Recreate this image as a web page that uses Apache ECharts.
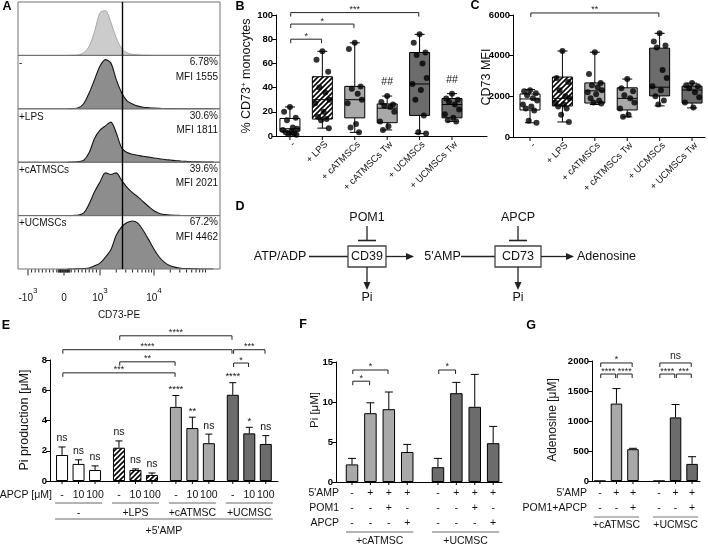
<!DOCTYPE html>
<html>
<head>
<meta charset="utf-8">
<script src="https://cdn.jsdelivr.net/npm/echarts@6.0.0/dist/echarts.min.js"></script>
<style>html,body{margin:0;padding:0;background:#fff;}#chart{width:708px;height:546px;}</style>
</head>
<body>
<div id="chart"></div>
<script>
const FF = '"Liberation Sans", Arial, Helvetica, sans-serif';

// ===== Panel A: CD73-PE histograms (display scale in decades) =====
const histBins = [2.4,2.5,2.6,2.7,2.8,2.9,3.0,3.1,3.2,3.3,3.4,3.5,3.6,3.7,3.8,3.9,4.0,4.1,4.2,4.3,4.4,4.5,4.6,4.7,4.8,4.9,5.0,5.1];
const histUnstained = [0,0.3,1,5,17,45,80,84,62,33,13,5,2,1,0.5,0.3,0,0,0,0,0,0,0,0,0,0,0,0];
const histNone      = [0,0.5,2,10,30,55,80,92,86,55,30,15,9,5,3,2,1.2,0.8,0.5,0.3,0.2,0.1,0,0,0,0,0,0];
const histLPS       = [0,0.3,1,4,18,45,60,68,75,55,27,18,15,13,11,9.5,8,6.5,5,4,3,2.2,1.5,1,0.7,0.4,0.2,0.1];
const histCATMSC    = [0,0.3,1,5,22,45,63,80,77,80,66,53,43,35,26,17,9,4,2,1,0.5,0.2,0,0,0,0,0,0];
const histUCMSC     = [0,0,0.3,0.8,2,6,11,22,36,63,79,87,90,86,72,55,37,22,12,6,3,1.5,0.8,0.4,0.2,0,0,0];
const histConditions = ['', '-', '+LPS', '+cATMSCs', '+UCMSCs'];
const histPercent = ['', '6.78%', '30.6%', '39.6%', '67.2%'];
const histMFI = ['', 'MFI 1555', 'MFI 1811', 'MFI 2021', 'MFI 4462'];
const histGate = 3.407;
const aTickValues = [-1000, 0, 1000, 10000];
const aTickBase = ['-10', '0', '10', '10'];
const aTickExp = ['3', '', '3', '4'];

// ===== Panel B: % CD73+ monocytes (box plots) =====
const boxCategories = ['-', '+ LPS', '+ cATMSCs', '+ cATMSCs Tw', '+ UCMSCs', '+ UCMSCs Tw'];
const bBoxStats = [[1,4,6,14.5,24],[6.5,14,30,49,70],[3,15,30,41,77],[5,11,23,26.5,33],[2,17,43,69,84],[12,15,26,31,35]];
const bPoints = [
  [24,20,15,13,7,6,5,4,3,2,1.5,1],
  [70,63,53,40,36,30,27,20,16,14,13,6.5],
  [77,72,41,39,35,30,27,10,7,3],
  [33,28,26,25,24,20,12,8,5],
  [84,77,69,67,60,48,43,38,30,17,3,2],
  [35,31,30,28,26,22,18,15,13,12]
];
const bSig = [[0,1,80,'*'],[0,2,92.5,'*'],[0,4,102,'***']];
const bHash = [[3,'##'],[5,'##']];

// ===== Panel C: CD73 MFI (box plots) =====
const cBoxStats = [[700,1330,1870,2115,2330],[740,1525,1900,2950,4230],[1600,1670,2270,2660,4170],[990,1330,1900,2420,2850],[1530,2020,2450,4370,5100],[1430,1670,2310,2500,2650]];
const cPoints = [
  [2300,2250,2150,2050,1900,1800,1600,1500,1400,1300,800,700],
  [4230,2900,2700,2300,2000,1900,1700,1600,1500,1400,1100,740],
  [4170,3100,2650,2550,2450,2300,2200,2100,1900,1800,1700,1650],
  [2850,2400,2250,2050,1900,1700,1400,1100,1000],
  [5100,4700,4500,4400,3300,2900,2500,2300,2000,1800,1600],
  [2650,2550,2500,2400,2200,1950,1700,1450]
];
const cSig = [[0,4,6100,'**']];

// ===== Panel E: Pi production =====
const eGroups = ['-', '+LPS', '+cATMSC', '+UCMSC'];
const eDoses = ['-', '10', '100'];
const eMeans = [[1.72,1.13,0.73],[2.2,0.73,0.4],[4.9,3.5,2.5],[5.7,3.15,2.45]];
const eSEM = [[0.53,0.27,0.27],[0.45,0.07,0.13],[0.75,0.72,0.6],[0.8,0.4,0.55]];
const eMarks = [['ns','ns','ns'],['ns','ns','ns'],['****','**','ns'],['****','*','ns']];
const eSig = [[[0,0],[2,0],7.15,'***'],[[1,0],[2,0],7.88,'**'],[[0,0],[3,0],8.68,'****'],[[1,0],[3,0],9.6,'****'],[[3,0],[3,1],7.8,'*'],[[3,0],[3,2],8.68,'***']];
const eCommon = "+5'AMP";

// ===== Panel F: Pi =====
const fGroups = ['+cATMSC', '+UCMSC'];
const fMeans = [[2.2,8.6,9.1,3.75],[1.85,11.1,9.4,4.85]];
const fSEM = [[0.75,1.3,2.15,0.95],[1.1,1.35,4.05,2.1]];
const fRowNames = ["5'AMP", 'POM1', 'APCP'];
const fRowSigns = [['-','+','+','+'],['-','-','+','-'],['-','-','-','+']];
const fSig = [[[0,0],[0,1],12.6,'*'],[[0,0],[0,2],14.0,'*'],[[1,0],[1,1],14.0,'*']];

// ===== Panel G: Adenosine =====
const gGroups = ['+cATMSC', '+UCMSC'];
const gMeans = [[0,1290,530],[0,1060,285]];
const gSEM = [[0,250,15],[0,215,120]];
const gRowNames = ["5'AMP", 'POM1+APCP'];
const gRowSigns = [['-','+','+'],['-','-','+']];
const gSig = [[[0,0],[0,1],1783,'****'],[[0,1],[0,2],1783,'****'],[[0,0],[0,2],1967,'*'],[[1,0],[1,1],1783,'****'],[[1,1],[1,2],1783,'***'],[[1,0],[1,2],1967,'ns']];

// ---------------------------------------------------------------
const LIGHT = '#a9a9a9', DARK = '#6c6c6c';
const STAR = 9;
const hatchCanvas = (function(){
  const c = document.createElement('canvas'); c.width = 5; c.height = 5;
  const g = c.getContext('2d'); g.fillStyle = '#fff'; g.fillRect(0,0,5,5);
  g.strokeStyle = '#000'; g.lineWidth = 1.6; g.beginPath();
  g.moveTo(-1,6); g.lineTo(6,-1); g.moveTo(-1,1); g.lineTo(1,-1); g.moveTo(4,6); g.lineTo(6,4);
  g.stroke(); return c;
})();
const HATCH = {image: hatchCanvas, repeat: 'repeat'};

const grid = [], xAxis = [], yAxis = [], series = [], graphics = [];

function txt(text, x, y, o) {
  o = o || {};
  graphics.push({type:'text', x:x, y:y, rotation:o.rotation||0, silent:true, z:10,
    style:{text:text, fontSize:o.size||11, fontFamily:FF, fontWeight:o.weight||'normal', fill:o.color||'#111',
      align:o.align||'center', verticalAlign:o.va||'middle', textAlign:o.align||'center', textVerticalAlign:o.va||'middle', rich:o.rich}});
}
function gline(x1,y1,x2,y2,o){ o=o||{}; graphics.push({type:'line', silent:true, z:10, shape:{x1,y1,x2,y2}, style:{stroke:o.color||'#222', lineWidth:o.width||1.3}}); }
function gpoly(pts,o){ o=o||{}; graphics.push({type:'polygon', silent:true, z:10, shape:{points:pts}, style:{fill:o.color||'#222'}}); }

function valueAxisX(gi, min, max) {
  return {gridIndex:gi, type:'value', min:min, max:max, axisLine:{show:true, onZero:false, lineStyle:{color:'#000', width:1}},
    axisTick:{show:false}, axisLabel:{show:false}, splitLine:{show:false}};
}
function valueAxisY(gi, min, max, interval) {
  return {gridIndex:gi, type:'value', min:min, max:max, interval:interval,
    axisLine:{show:true, onZero:false, lineStyle:{color:'#000', width:1}},
    axisTick:{show:true, length:4, lineStyle:{color:'#000'}},
    axisLabel:{fontSize:9.5, fontWeight:'bold', color:'#000', fontFamily:FF, margin:3, formatter:function(v){return String(v);}},
    splitLine:{show:false}};
}

// ---------- A ----------
const aMin = 1.481, aMax = 5.222, aTop0 = 2, aH = 53.4;
function biex(x){ return Math.abs(x) <= 1000 ? 2.333 + x * 0.000667 : (x > 0 ? Math.log10(x) : 1.667 - (Math.log10(-x) - 3)); }
const hists = [histUnstained, histNone, histLPS, histCATMSC, histUCMSC];
hists.forEach(function(h, i){
  grid.push({left:18, top:aTop0 + i*aH, width:202, height:aH, show:true, borderColor:'#707070', borderWidth:1, z:3});
  xAxis.push({gridIndex:i, type:'value', min:aMin, max:aMax, show:false});
  yAxis.push({gridIndex:i, type:'value', min:0, max:100, show:false});
  const light = i === 0;
  series.push({type:'line', xAxisIndex:i, yAxisIndex:i, silent:true, symbol:'none', smooth:0.3, z:2,
    data: histBins.map(function(b,j){ return [b, h[j]]; }),
    lineStyle:{color: light ? '#a8a8a8' : '#151515', width: light ? 1 : 1.1},
    areaStyle:{color: light ? '#cccccc' : '#8d8d8d', opacity:1},
    markLine:{silent:true, symbol:['none','none'], label:{show:false}, animation:false,
      lineStyle:{color:'#000', width:1.4, type:'solid'}, data:[{xAxis:histGate}]}});
  const top = aTop0 + i*aH;
  if (histConditions[i]) txt(histConditions[i], 19, top + 8, {size:10, align:'left'});
  if (histPercent[i]) txt(histPercent[i], 218, top + 7, {size:10, align:'right'});
  if (histMFI[i]) txt(histMFI[i], 218, top + 21.5, {size:10, align:'right'});
});
const aTicks = [];
aTickValues.forEach(function(v){ aTicks.push([biex(v), 6]); });
for (let k = 2; k <= 9; k++) { aTicks.push([biex(k*1000), 3]); aTicks.push([biex(k*10000), 3]); }
for (let k = 1; k <= 9; k++) { aTicks.push([biex(k*100), 3]); aTicks.push([biex(-k*100), 3]); }
for (let k = 1; k <= 8; k++) { aTicks.push([biex(k*20), 3]); aTicks.push([biex(-k*20), 3]); }
series.push({type:'custom', xAxisIndex:4, yAxisIndex:4, silent:true, z:6,
  data: aTicks.filter(function(t){ return t[0] >= aMin && t[0] <= aMax; }),
  renderItem: function(params, api){
    const p = api.coord([api.value(0), 0]);
    return {type:'line', shape:{x1:p[0], y1:p[1]+0.5, x2:p[0], y2:p[1]+0.5+api.value(1)}, style:{stroke:'#222', lineWidth:1}};
  }});
series.push({type:'custom', xAxisIndex:4, yAxisIndex:4, silent:true, z:6,
  data: aTickValues.map(function(v){ return [biex(v), 0]; }),
  renderItem: function(params, api){
    const p = api.coord([api.value(0), 0]);
    const i = params.dataIndex;
    const t = aTickExp[i] ? '{b|' + aTickBase[i] + '}{e|' + aTickExp[i] + '}' : '{b|' + aTickBase[i] + '}';
    return {type:'text', x:p[0], y:p[1] + 26, style:{text:t, align:'center', verticalAlign:'middle',
      rich:{b:{fontSize:10, fontFamily:FF, fill:'#111', lineHeight:16, verticalAlign:'bottom'},
            e:{fontSize:8, fontFamily:FF, fill:'#111', lineHeight:16, verticalAlign:'top'}}}};
  }});
txt('CD73-PE', 119, 315, {size:10});

// ---------- helpers for B..G ----------
function boxSeries(ai, stats, fills) {
  return {type:'custom', xAxisIndex:ai, yAxisIndex:ai, silent:true, z:3,
    data: stats.map(function(s,i){ return [i].concat(s); }),
    renderItem: function(params, api){
      const x = api.value(0);
      function P(k){ return api.coord([x, api.value(k)]); }
      const pMin=P(1), pQ1=P(2), pMed=P(3), pQ3=P(4), pMax=P(5);
      const cx = pMin[0], hw = 10, cw = 5, ls = {stroke:'#000', lineWidth:1};
      return {type:'group', children:[
        {type:'line', shape:{x1:cx,y1:pMin[1],x2:cx,y2:pQ1[1]}, style:ls},
        {type:'line', shape:{x1:cx,y1:pQ3[1],x2:cx,y2:pMax[1]}, style:ls},
        {type:'line', shape:{x1:cx-cw,y1:pMin[1],x2:cx+cw,y2:pMin[1]}, style:ls},
        {type:'line', shape:{x1:cx-cw,y1:pMax[1],x2:cx+cw,y2:pMax[1]}, style:ls},
        {type:'rect', shape:{x:cx-hw,y:pQ3[1],width:2*hw,height:pQ1[1]-pQ3[1]}, style:{fill:fills[params.dataIndex], stroke:'#000', lineWidth:1}},
        {type:'line', shape:{x1:cx-hw,y1:pMed[1],x2:cx+hw,y2:pMed[1]}, style:ls}
      ]};
    }};
}
const jitter = [0, -0.18, 0.18, -0.09, 0.09, 0.22, -0.22, 0.04, -0.13, 0.13, -0.04, 0.2, -0.2];
function pointsSeries(ai, pts) {
  const data = [];
  pts.forEach(function(arr, i){ arr.forEach(function(v, k){ data.push([i + jitter[k % jitter.length], v]); }); });
  return {type:'scatter', xAxisIndex:ai, yAxisIndex:ai, silent:true, z:4, symbol:'circle', symbolSize:6,
    itemStyle:{color:'#000'}, data:data};
}
function tickSeries(ai, xs, len) {
  return {type:'custom', xAxisIndex:ai, yAxisIndex:ai, silent:true, z:5, data: xs.map(function(x){ return [x, 0]; }),
    renderItem: function(params, api){
      const p = api.coord([api.value(0), api.value(1)]);
      return {type:'line', shape:{x1:p[0], y1:p[1], x2:p[0], y2:p[1]+len}, style:{stroke:'#000', lineWidth:1}};
    }};
}
function axisText(ai, xs, texts, dy, o) {
  o = o || {};
  return {type:'custom', xAxisIndex:ai, yAxisIndex:ai, silent:true, z:5, data: xs.map(function(x){ return [x, 0]; }),
    renderItem: function(params, api){
      const p = api.coord([api.value(0), api.value(1)]);
      return {type:'text', x:p[0] + (o.dx||0), y:p[1] + dy, rotation:o.rotation||0,
        style:{text:texts[params.dataIndex], fontSize:o.size||10.5, fontFamily:FF, fontWeight:o.weight||'normal', fill:o.color||'#111',
          align:o.align||'center', verticalAlign:'middle'}};
    }};
}
function pointText(ai, pts, texts, dy, o) {
  o = o || {};
  return {type:'custom', xAxisIndex:ai, yAxisIndex:ai, silent:true, z:5, data: pts,
    renderItem: function(params, api){
      const p = api.coord([api.value(0), api.value(1)]);
      const t = texts[params.dataIndex];
      const star = t.indexOf('*') >= 0;
      return {type:'text', x:p[0], y:p[1] + dy + (star ? 2.5 : 0),
        style:{text:t, fontSize:star ? STAR + 0.5 : (o.size||10.5), fontFamily:FF, fill:'#111', align:'center', verticalAlign:'middle'}};
    }};
}
function underlineSeries(ai, ranges, dy, pad, color, width) {
  return {type:'custom', xAxisIndex:ai, yAxisIndex:ai, silent:true, z:5, data: ranges,
    renderItem: function(params, api){
      const a = api.coord([api.value(0), 0]), b = api.coord([api.value(1), 0]);
      return {type:'line', shape:{x1:a[0]-pad, y1:a[1]+dy, x2:b[0]+pad, y2:b[1]+dy}, style:{stroke:color, lineWidth:width}};
    }};
}
function bracketSeries(ai, list) {
  return {type:'custom', xAxisIndex:ai, yAxisIndex:ai, silent:true, z:5,
    data: list.map(function(b){ return [b[0], b[1], b[2]]; }),
    renderItem: function(params, api){
      const a = api.coord([api.value(0), api.value(2)]), b = api.coord([api.value(1), api.value(2)]);
      const lab = list[params.dataIndex][3];
      const star = lab.indexOf('*') >= 0;
      return {type:'group', children:[
        {type:'polyline', shape:{points:[[a[0]+0.8, a[1]+4],[a[0]+0.8, a[1]],[b[0]-0.8, b[1]],[b[0]-0.8, b[1]+4]]}, style:{stroke:'#222', lineWidth:1, fill:'none'}},
        {type:'text', x:(a[0]+b[0])/2, y:a[1] - (star ? 3 : 7),
          style:{text:lab, fontSize: star ? STAR : 10.5, fontFamily:FF, fill:'#222', align:'center', verticalAlign:'middle'}}
      ]};
    }};
}
function errorSeries(ai, pts, cap) {
  return {type:'custom', xAxisIndex:ai, yAxisIndex:ai, silent:true, z:4, data: pts,
    renderItem: function(params, api){
      if (!(api.value(2) > 0)) return null;
      const a = api.coord([api.value(0), api.value(1)]), b = api.coord([api.value(0), api.value(1) + api.value(2)]);
      return {type:'group', children:[
        {type:'line', shape:{x1:a[0], y1:a[1], x2:b[0], y2:b[1]}, style:{stroke:'#000', lineWidth:1}},
        {type:'line', shape:{x1:b[0]-cap, y1:b[1], x2:b[0]+cap, y2:b[1]}, style:{stroke:'#000', lineWidth:1}}
      ]};
    }};
}

// ---------- B ----------
const boxFills = ['#ffffff', HATCH, LIGHT, LIGHT, DARK, DARK];
grid.push({left:276, top:15, width:211, height:121});
xAxis.push(valueAxisX(5, -0.43, 6.08));
yAxis.push(valueAxisY(5, 0, 100, 20));
series.push(boxSeries(5, bBoxStats, boxFills));
series.push(pointsSeries(5, bPoints));
series.push(tickSeries(5, boxCategories.map(function(c,i){return i;}), 4));
series.push(axisText(5, boxCategories.map(function(c,i){return i;}), boxCategories, 7, {dx:4, rotation:Math.PI/4, align:'right', size:9.5}));
series.push(bracketSeries(5, bSig));
series.push(pointText(5, bHash.map(function(h){ return [h[0], bBoxStats[h[0]][4]]; }), bHash.map(function(h){return h[1];}), -14, {size:10.5}));

// ---------- C ----------
grid.push({left:513, top:15, width:192, height:122});
xAxis.push(valueAxisX(6, -0.525, 5.4));
yAxis.push(valueAxisY(6, 0, 6000, 2000));
series.push(boxSeries(6, cBoxStats, boxFills));
series.push(pointsSeries(6, cPoints));
series.push(tickSeries(6, boxCategories.map(function(c,i){return i;}), 4));
series.push(axisText(6, boxCategories.map(function(c,i){return i;}), boxCategories, 7, {dx:4, rotation:Math.PI/4, align:'right', size:9.5}));
series.push(bracketSeries(6, cSig));

// ---------- bar panels ----------
function barPanel(ai, means, sem, stride, colors, barW, cap) {
  const pos = [], data = [], err = [];
  means.forEach(function(g, gi){ g.forEach(function(v, bi){
    const x = gi*stride + bi; pos.push(x);
    data.push({value:[x, v], itemStyle:{color:colors[gi]}});
    err.push([x, v, sem[gi][bi]]);
  }); });
  series.push({type:'bar', xAxisIndex:ai, yAxisIndex:ai, silent:true, z:3, barWidth:barW,
    itemStyle:{borderColor:'#000', borderWidth:1}, data:data});
  series.push(errorSeries(ai, err, cap));
  series.push(tickSeries(ai, pos, 3));
  return pos;
}
function sigList(list, stride) {
  return list.map(function(s){ return [s[0][0]*stride + s[0][1], s[1][0]*stride + s[1][1], s[2], s[3]]; });
}

// ---------- E ----------
const eStride = 3.45;
grid.push({left:50, top:360, width:228, height:121});
xAxis.push(valueAxisX(7, -0.73, 13.09));
yAxis.push(valueAxisY(7, 0, 8, 2));
const ePos = barPanel(7, eMeans, eSEM, eStride, ['#ffffff', HATCH, LIGHT, DARK], 12, 3.5);
const eTopPts = [], eTopTxt = [];
eMeans.forEach(function(g, gi){ g.forEach(function(v, bi){ eTopPts.push([gi*eStride+bi, v + eSEM[gi][bi]]); eTopTxt.push(eMarks[gi][bi]); }); });
series.push(pointText(7, eTopPts, eTopTxt, -8.5, {size:10.5}));
series.push(bracketSeries(7, sigList(eSig, eStride)));
series.push(axisText(7, ePos, ePos.map(function(p, i){ return eDoses[i % 3]; }), 14, {size:10.5}));
series.push(underlineSeries(7, eGroups.map(function(g, gi){ return [gi*eStride, gi*eStride + 2]; }), 22, 7, '#9a9a9a', 1.3));
series.push(axisText(7, eGroups.map(function(g, gi){ return gi*eStride + 1; }), eGroups, 32, {size:10.5}));
series.push(underlineSeries(7, [[0, 3*eStride + 2]], 38, 7, '#9a9a9a', 1.3));
series.push(axisText(7, [(3*eStride + 2)/2], [eCommon], 50, {size:10.5}));
txt('APCP [μM]', 52, 495, {size:10.5, align:'right'});

// ---------- F ----------
const fStride = 4.67;
grid.push({left:336, top:362, width:166, height:120});
xAxis.push(valueAxisX(8, -0.87, 8.15));
yAxis.push(valueAxisY(8, 0, 15, 5));
const fPos = barPanel(8, fMeans, fSEM, fStride, [LIGHT, DARK], 12.5, 4);
series.push(bracketSeries(8, sigList(fSig, fStride)));
fRowSigns.forEach(function(row, r){
  const xs = [], ts = [];
  fGroups.forEach(function(g, gi){ row.forEach(function(s, bi){ xs.push(gi*fStride + bi); ts.push(s); }); });
  series.push(axisText(8, xs, ts, 11 + r*15, {size:10.5}));
  txt(fRowNames[r], 339, 493 + r*15, {size:10.5, align:'right'});
});
series.push(underlineSeries(8, fGroups.map(function(g, gi){ return [gi*fStride, gi*fStride + 3]; }), 50, 6, '#9a9a9a', 1.3));
series.push(axisText(8, fGroups.map(function(g, gi){ return gi*fStride + 1.5; }), fGroups, 59, {size:10.5}));

// ---------- G ----------
const gStride = 3.58;
grid.push({left:592, top:361, width:108, height:120});
xAxis.push(valueAxisX(9, -0.48, 6.06));
yAxis.push(valueAxisY(9, 0, 2000, 500));
const gPos = barPanel(9, gMeans, gSEM, gStride, [LIGHT, DARK], 11.5, 4);
series.push(bracketSeries(9, sigList(gSig, gStride)));
gRowSigns.forEach(function(row, r){
  const xs = [], ts = [];
  gGroups.forEach(function(g, gi){ row.forEach(function(s, bi){ xs.push(gi*gStride + bi); ts.push(s); }); });
  series.push(axisText(9, xs, ts, 12 + r*15, {size:10.5}));
  txt(gRowNames[r], 587, 493 + r*15, {size:10.5, align:'right'});
});
series.push(underlineSeries(9, gGroups.map(function(g, gi){ return [gi*gStride, gi*gStride + 2]; }), 36, 6, '#777', 1.2));
series.push(axisText(9, gGroups.map(function(g, gi){ return gi*gStride + 1; }), gGroups, 44, {size:10.5}));

// ---------- Titles & panel letters ----------
[['A',7,7],['B',240,7],['C',475,6],['D',240,207],['E',6,326],['F',303,325],['G',531,326]].forEach(function(l){
  txt(l[0], l[1], l[2], {size:12.5, weight:'bold', color:'#000'});
});
txt('% CD73{s|+} monocytes', 247, 76, {size:12.5, rotation:Math.PI/2,
  rich:{s:{fontSize:8, fontFamily:FF, fill:'#111', verticalAlign:'top', lineHeight:14}}});
txt('CD73 MFI', 487, 77, {size:12.5, rotation:Math.PI/2});
txt('Pi production [μM]', 25, 420, {size:12.5, rotation:Math.PI/2});
txt('Pi [μM]', 315, 410, {size:11.5, rotation:Math.PI/2});
txt('Adenosine [μM]', 553, 420, {size:12, rotation:Math.PI/2});

// ---------- D: pathway diagram ----------
txt('ATP/ADP', 280, 257, {size:12.5});
gline(309, 256.5, 348, 256.5);
graphics.push({type:'rect', silent:true, z:10, shape:{x:348, y:246, width:38, height:21}, style:{fill:'#fff', stroke:'#444', lineWidth:1.3}});
txt('CD39', 367, 256.5, {size:12.5});
txt('POM1', 367, 218, {size:12.5});
gline(367, 226, 367, 240.5); gline(358, 240.5, 376, 240.5, {width:1.6});
gline(386, 256.5, 407, 256.5); gpoly([[406,253],[414,256.5],[406,260]]);
txt("5'AMP", 442.5, 256.5, {size:12.5});
gline(461, 256.5, 495, 256.5);
graphics.push({type:'rect', silent:true, z:10, shape:{x:495, y:246, width:46, height:21}, style:{fill:'#fff', stroke:'#444', lineWidth:1.3}});
txt('CD73', 518, 256.5, {size:12.5});
txt('APCP', 518, 218, {size:12.5});
gline(518, 226, 518, 240.5); gline(509, 240.5, 527, 240.5, {width:1.6});
gline(541, 256.5, 567, 256.5); gpoly([[566,253],[574,256.5],[566,260]]);
txt('Adenosine', 577, 256.5, {size:12.5, align:'left'});
gline(367, 267, 367, 283); gpoly([[363.5,282],[367,290],[370.5,282]]);
gline(518, 267, 518, 283); gpoly([[514.5,282],[518,290],[521.5,282]]);
txt('Pi', 367, 298, {size:12.5});
txt('Pi', 518, 298, {size:12.5});

const chart = echarts.init(document.getElementById('chart'), null, {renderer:'canvas', width:708, height:546});
chart.setOption({animation:false, backgroundColor:'#fff', textStyle:{fontFamily:FF},
  grid:grid, xAxis:xAxis, yAxis:yAxis, series:series, graphic:{elements:graphics}});
</script>
</body>
</html>
